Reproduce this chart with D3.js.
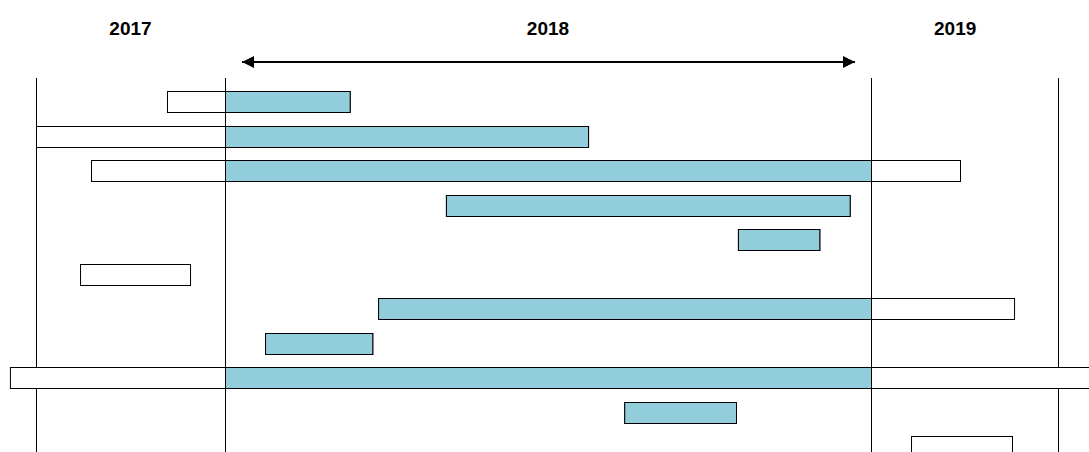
<!DOCTYPE html>
<html>
<head>
<meta charset="utf-8">
<script src="https://cdnjs.cloudflare.com/ajax/libs/d3/7.8.5/d3.min.js"></script>
<style>
  body { margin: 0; background: #fff; }
  text { font-family: Arial, "Liberation Sans", sans-serif; font-weight: bold; font-size: 19px; }
</style>
</head>
<body>
<svg width="1089" height="452"></svg>
<script>
// year boundaries and labels
var years = [2017, 2018, 2019, 2020];
var yearLabels = ["2017", "2018", "2019"];

// task start / end, in fractional years
var starts = [2017.693, 2017.0, 2017.291, 2018.342, 2018.794, 2017.233, 2018.237, 2018.062, 2016.862, 2018.618, 2019.214];
var ends   = [2018.193, 2018.562, 2019.476, 2018.967, 2018.920, 2017.815, 2019.765, 2018.228, 2020.166, 2018.791, 2019.754];

var svg = d3.select("svg");

// piecewise scale: each year gets its own width
var x = d3.scaleLinear().domain(years).range([36, 225, 871, 1058]);
var y = d3.scaleLinear().domain([0, 1]).range([91, 125.5]);
var barH = 21;

// arrow markers
var defs = svg.append("defs");
["s", "e"].forEach(function(k) {
  defs.append("marker")
      .attr("id", "arr" + k)
      .attr("viewBox", "0 0 10 10")
      .attr("refX", k == "e" ? 10 : 0).attr("refY", 5)
      .attr("markerWidth", 16).attr("markerHeight", 12)
      .attr("markerUnits", "userSpaceOnUse")
      .attr("orient", "auto")
    .append("path")
      .attr("d", k == "e" ? "M0,0L10,5L0,10Z" : "M10,0L0,5L10,10Z")
      .attr("fill", "#000");
});

// year labels near the middle of each year
svg.selectAll(".yl").data(yearLabels).enter().append("text")
    .attr("x", function(d, i) { return x(years[i] + (i == 2 ? 0.45 : 0.5)); })
    .attr("y", 35)
    .attr("text-anchor", "middle")
    .text(function(d) { return d; });

// arrow across 2018
svg.append("line")
    .attr("x1", x(2018) + 17).attr("x2", x(2019) - 16)
    .attr("y1", 62).attr("y2", 62)
    .attr("stroke", "#000").attr("stroke-width", 2)
    .attr("marker-start", "url(#arrs)").attr("marker-end", "url(#arre)");

// year separators
svg.selectAll(".sep").data(years).enter().append("line")
    .attr("x1", function(d) { return x(d) + 0.5; }).attr("x2", function(d) { return x(d) + 0.5; })
    .attr("y1", 78).attr("y2", 452)
    .attr("stroke", "#000").attr("stroke-width", 1);

var tasks = starts.map(function(s, i) { return { s: s, e: ends[i], i: i }; });

// whole task outline (white)
svg.selectAll(".out").data(tasks).enter().append("rect")
    .attr("x", function(d) { return x(d.s) + 0.5; })
    .attr("y", function(d) { return Math.round(y(d.i)) + 0.5; })
    .attr("width", function(d) { return x(d.e) - x(d.s); })
    .attr("height", barH)
    .attr("fill", "#fff").attr("stroke", "#000");

// portion inside 2018 (blue)
svg.selectAll(".in").data(tasks.filter(function(d) { return d.e > 2018 && d.s < 2019; })).enter().append("rect")
    .attr("x", function(d) { return x(Math.max(d.s, 2018)) + 0.5; })
    .attr("y", function(d) { return Math.round(y(d.i)) + 0.5; })
    .attr("width", function(d) { return x(Math.min(d.e, 2019)) - x(Math.max(d.s, 2018)); })
    .attr("height", barH)
    .attr("fill", "#92cddc").attr("stroke", "#000");
</script>
</body>
</html>
